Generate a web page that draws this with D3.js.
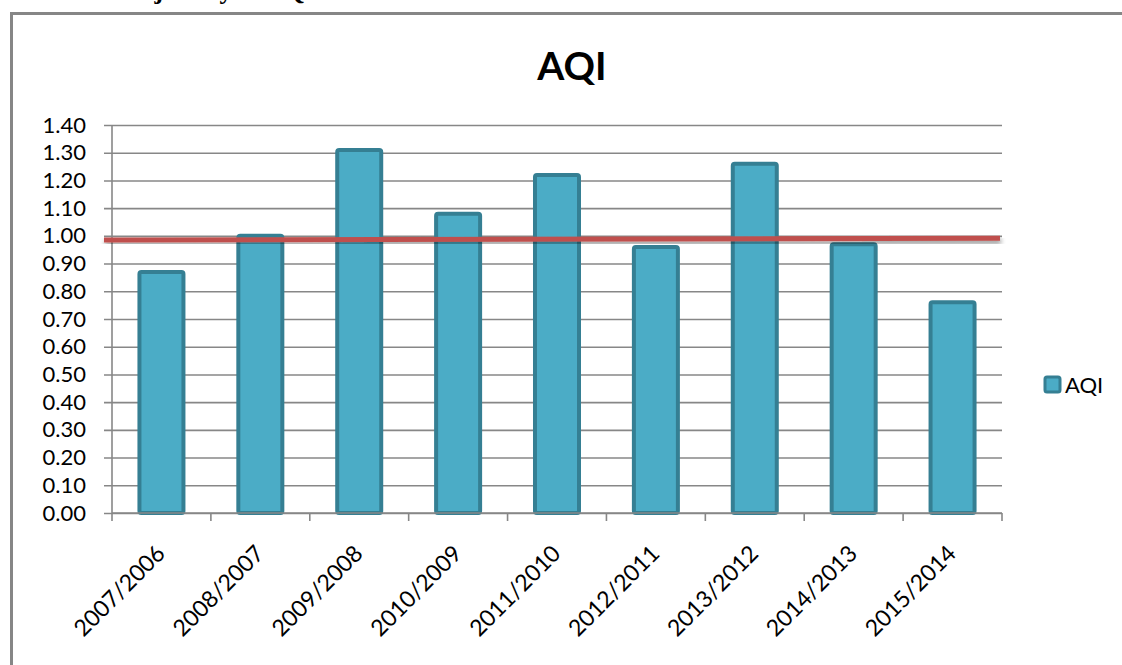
<!DOCTYPE html>
<html>
<head>
<meta charset="utf-8">
<script src="https://cdn.jsdelivr.net/npm/d3@7"></script>
<style>
  html, body { margin: 0; padding: 0; background: #fff; }
  svg { display: block; }
</style>
</head>
<body>
<svg id="chart" width="1122" height="665"></svg>
<script>
// Yearly AQI ratios (current year / previous year)
const categories = ["2007/2006", "2008/2007", "2009/2008", "2010/2009", "2011/2010",
                    "2012/2011", "2013/2012", "2014/2013", "2015/2014"];
const aqiValues = [0.87, 1.00, 1.31, 1.08, 1.22, 0.96, 1.26, 0.97, 0.76];
const yTicks = [0.00, 0.10, 0.20, 0.30, 0.40, 0.50, 0.60, 0.70, 0.80, 0.90, 1.00, 1.10, 1.20, 1.30, 1.40];
// Reference line: value at its left end and its right end
const refLine = [0.985, 0.991];
const seriesName = "AQI";
const chartTitle = "AQI";
const captionText = "Chart 7: Trajectory of AQI";

const svg = d3.select("#chart");
const font = "Lato, 'Open Sans', 'Noto Sans', sans-serif";

const plot = { left: 112, right: 1002, top: 125, bottom: 513 };

const defs = svg.append("defs");
const shadow = defs.append("filter").attr("id", "shadow")
  .attr("x", "-5%").attr("y", "-200%").attr("width", "110%").attr("height", "500%");
shadow.append("feGaussianBlur").attr("in", "SourceAlpha").attr("stdDeviation", 2.5).attr("result", "b");
shadow.append("feOffset").attr("in", "b").attr("dx", 1).attr("dy", 3).attr("result", "o");
shadow.append("feComponentTransfer").attr("in", "o").attr("result", "s")
  .append("feFuncA").attr("type", "linear").attr("slope", 0.45);
const merge = shadow.append("feMerge");
merge.append("feMergeNode").attr("in", "s");
merge.append("feMergeNode").attr("in", "SourceGraphic");

// Caption above the chart frame (runs off the top of the page)
svg.append("text")
  .attr("x", 14).attr("y", -1)
  .attr("font-family", "'Liberation Serif', 'DejaVu Serif', serif")
  .attr("font-weight", "bold").attr("font-size", 26)
  .attr("fill", "#000")
  .text(captionText);

// Chart frame
svg.append("rect")
  .attr("x", 11.5).attr("y", 13.5)
  .attr("width", 1200).attr("height", 700)
  .attr("fill", "#fff").attr("stroke", "#868686").attr("stroke-width", 3);

// Title
svg.append("text")
  .attr("x", 572).attr("y", 80)
  .attr("text-anchor", "middle")
  .attr("font-family", font).attr("font-weight", "bold").attr("font-size", 39)
  .attr("fill", "#000")
  .text(chartTitle);

const x = d3.scaleBand().domain(categories).range([plot.left, plot.right])
  .paddingInner(0.555).paddingOuter(0.2775);
const xOuter = d3.scaleBand().domain(categories).range([plot.left, plot.right]);
const y = d3.scaleLinear().domain([0, 1.4]).range([plot.bottom, plot.top]);

// Horizontal gridlines with outer tick marks
const yAxis = d3.axisLeft(y).tickValues(yTicks)
  .tickSize(-(plot.right - plot.left)).tickPadding(26)
  .tickFormat(d3.format(".2f"));
const gy = svg.append("g").attr("transform", `translate(${plot.left},0)`).call(yAxis);
gy.select(".domain").remove();
gy.selectAll(".tick line")
  .attr("x1", -8)
  .attr("stroke", "#878787").attr("stroke-width", 1.6);
gy.selectAll(".tick text")
  .attr("font-family", font).attr("font-size", 22).attr("fill", "#000");

// Vertical axis line
svg.append("line")
  .attr("x1", plot.left).attr("x2", plot.left)
  .attr("y1", plot.top).attr("y2", plot.bottom)
  .attr("stroke", "#878787").attr("stroke-width", 1.6);

// Bars
svg.append("g").selectAll("rect")
  .data(aqiValues)
  .join("rect")
  .attr("x", (d, i) => x(categories[i]))
  .attr("y", d => y(d))
  .attr("width", x.bandwidth())
  .attr("height", d => y(0) - y(d))
  .attr("rx", 2).attr("ry", 2)
  .attr("fill", "#4BACC6")
  .attr("stroke", "#357F93").attr("stroke-width", 4);

// Category axis
const xAxisLine = svg.append("g");
xAxisLine.append("line")
  .attr("x1", plot.left).attr("x2", plot.right)
  .attr("y1", plot.bottom).attr("y2", plot.bottom)
  .attr("stroke", "#878787").attr("stroke-width", 1.6);
const boundaries = categories.map(c => xOuter(c)).concat([plot.right]);
xAxisLine.selectAll("line.tk")
  .data(boundaries)
  .join("line").attr("class", "tk")
  .attr("x1", d => d).attr("x2", d => d)
  .attr("y1", plot.bottom).attr("y2", plot.bottom + 8)
  .attr("stroke", "#878787").attr("stroke-width", 1.6);

svg.append("g").selectAll("text")
  .data(categories)
  .join("text")
  .attr("transform", d => `translate(${xOuter(d) + xOuter.bandwidth() / 2 + 5},${plot.bottom + 42}) rotate(-45)`)
  .attr("text-anchor", "end")
  .attr("font-family", font).attr("font-size", 23).attr("fill", "#000")
  .text(d => d);

// Reference line
svg.append("line")
  .attr("x1", plot.left - 8).attr("x2", plot.right - 2)
  .attr("y1", y(refLine[0])).attr("y2", y(refLine[1]))
  .attr("stroke", "#C0504D").attr("stroke-width", 5)
  .attr("filter", "url(#shadow)");

// Legend
const lg = svg.append("g").attr("transform", "translate(1045,377)");
lg.append("rect")
  .attr("width", 15).attr("height", 15).attr("rx", 2)
  .attr("fill", "#4BACC6").attr("stroke", "#357F93").attr("stroke-width", 3);
lg.append("text")
  .attr("x", 20).attr("y", 16)
  .attr("font-family", font).attr("font-size", 22).attr("fill", "#000")
  .text(seriesName);
</script>
</body>
</html>
